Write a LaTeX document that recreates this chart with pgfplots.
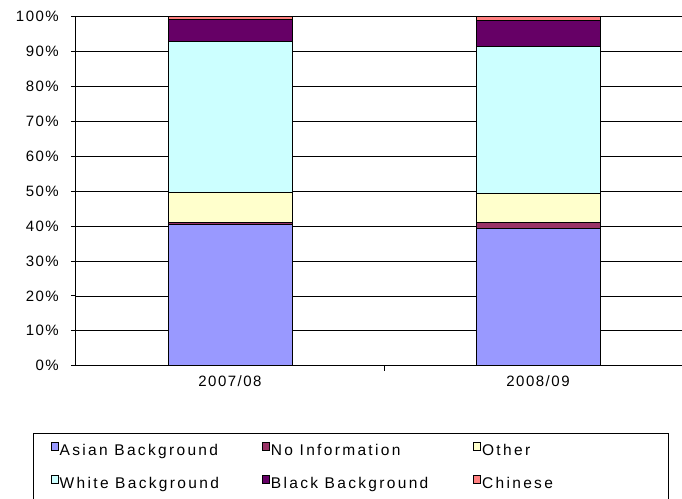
\documentclass[border=0pt]{standalone}
\usepackage{fontspec}
\setmainfont{Liberation Sans}[LetterSpace=10]
\newfontfamily\legfont{Liberation Sans}[LetterSpace=15]
\usepackage{pgfplots}
\pgfplotsset{compat=1.18}

\definecolor{asianbg}{HTML}{9999FF}
\definecolor{noinfo}{HTML}{993366}
\definecolor{otherbg}{HTML}{FFFFCC}
\definecolor{whitebg}{HTML}{CCFFFF}
\definecolor{blackbg}{HTML}{660066}
\definecolor{chinese}{HTML}{FF8080}

\pgfplotsset{
  legsq/.style={legend image code/.code={
    \draw[##1,draw=black,line width=0.7pt] (0pt,1pt) rectangle (7.5pt,8.5pt);}},
}

\begin{document}
\fontsize{15}{18}\selectfont
\begin{tikzpicture}
\begin{axis}[
    name=ax,
    x=308pt, y=3.49pt,
    xmin=-0.5, xmax=1.4675,
    ymin=0, ymax=100,
    ybar stacked,
    bar width=124pt,
    axis x line*=bottom,
    axis y line*=left,
    axis line style={black, line width=1pt},
    ytick={0,10,...,100},
    yticklabel={\pgfmathprintnumber{\tick}\%},
    /pgf/number format/assume math mode=true,
    ymajorgrids,
    grid style={black, line width=0.8pt},
    tick align=outside,
    major tick length=5pt,
    tick style={black, line width=1pt},
    yticklabel style={inner sep=0pt, xshift=-12pt},
    xtick={0.5},
    xticklabels={},
    extra x ticks={0,1},
    extra x tick labels={2007/08,2008/09},
    extra x tick style={major tick length=0pt, tick label style={yshift=-5pt}},
    legend columns=3,
    legend cell align=left,
    legend style={
      at={(-0.07096,-0.1928)}, anchor=north west,
      draw=black, fill=white, line width=1pt,
      inner xsep=17pt, inner ysep=9pt,
      font=\legfont\fontsize{15.5}{18}\selectfont,
      nodes={inner sep=1pt, text height=11pt, text depth=3pt},
      row sep=16pt,
    },
]
\addplot+[fill=asianbg, draw=black, line width=1pt, legsq] coordinates {(0,40.4) (1,39.3)};
\addlegendentry{\makebox[201pt][l]{Asian Background}}
\addplot+[fill=noinfo, draw=black, line width=1pt, legsq] coordinates {(0,0.5) (1,1.7)};
\addlegendentry{\makebox[201pt][l]{No Information}}
\addplot+[fill=otherbg, draw=black, line width=1pt, legsq] coordinates {(0,8.8) (1,8.2)};
\addlegendentry{\makebox[168pt][l]{Other}}
\addplot+[fill=whitebg, draw=black, line width=1pt, legsq] coordinates {(0,43.2) (1,42.4)};
\addlegendentry{White Background}
\addplot+[fill=blackbg, draw=black, line width=1pt, legsq] coordinates {(0,6.4) (1,7.2)};
\addlegendentry{Black Background}
\addplot+[fill=chinese, draw=black, line width=1pt, legsq] coordinates {(0,0.7) (1,1.2)};
\addlegendentry{Chinese}
\end{axis}
\pgfresetboundingbox
\path[use as bounding box] (-76pt,-132.3pt) rectangle (606pt,365.7pt);
\end{tikzpicture}
\end{document}
